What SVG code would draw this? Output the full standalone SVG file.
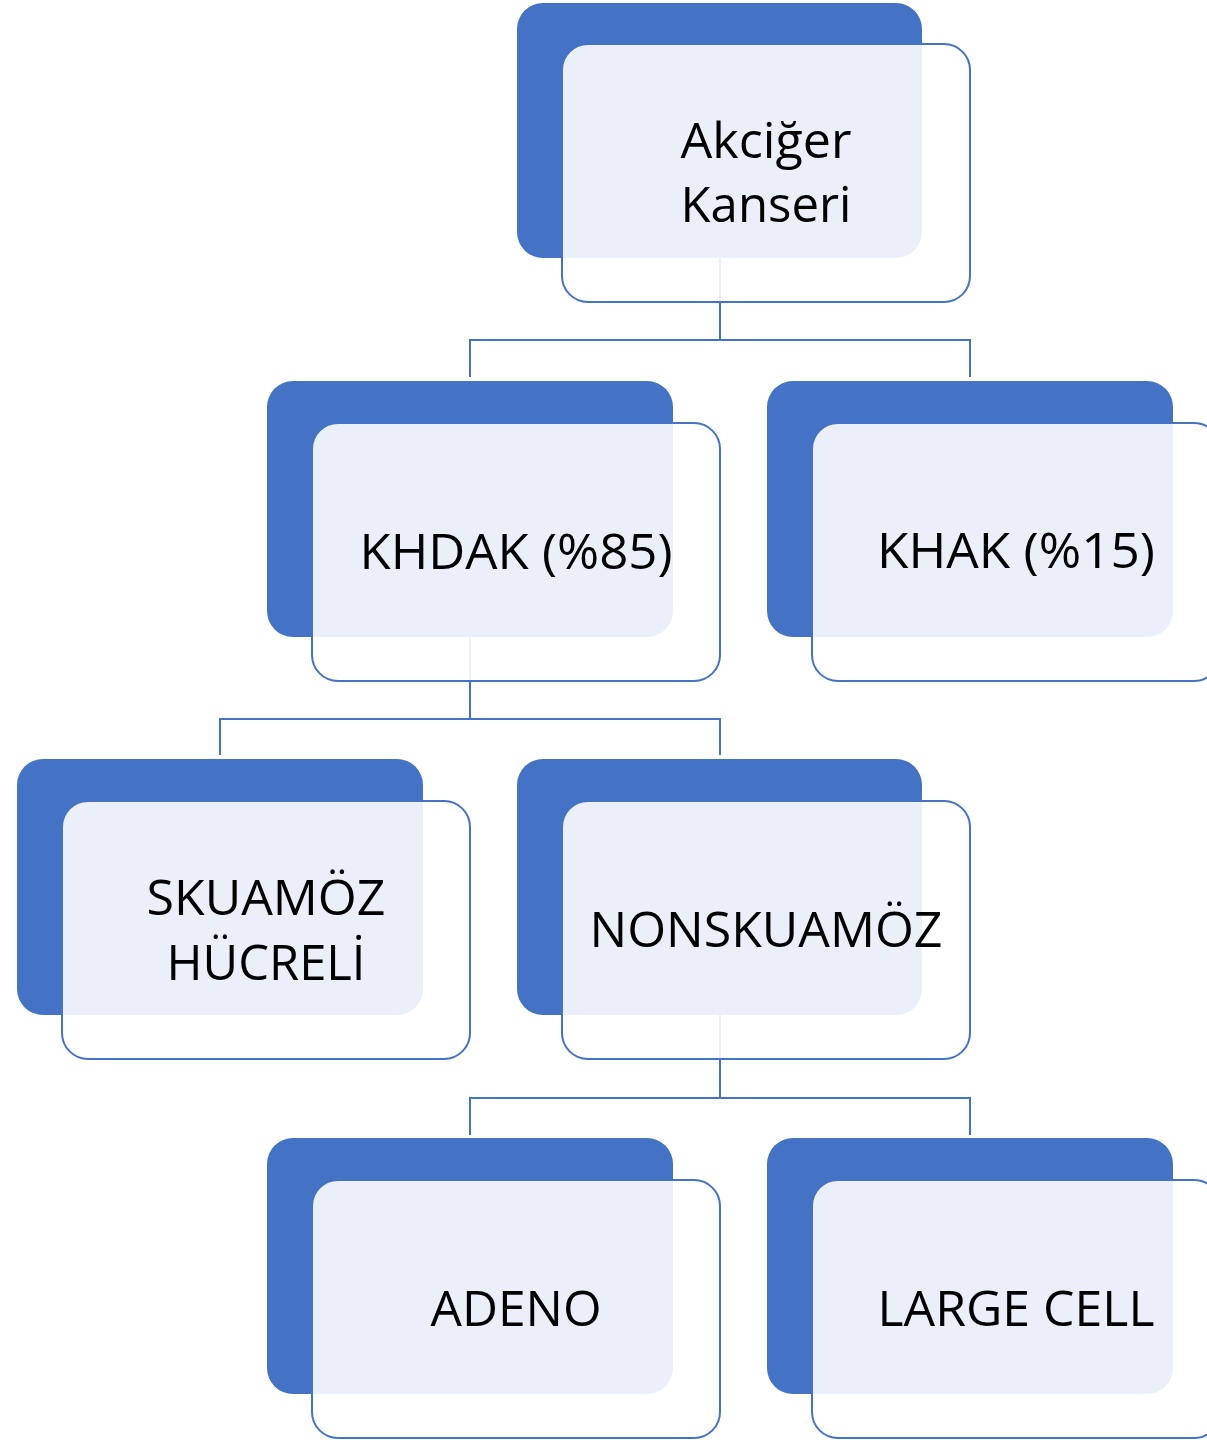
<svg xmlns="http://www.w3.org/2000/svg" width="1207" height="1440" viewBox="0 0 1207 1440">
  <style>
    .back { fill: #4472C4; }
    .front { fill: #FFFFFF; fill-opacity: 0.89; stroke: #4472C4; stroke-width: 2; }
    .conn { fill: none; stroke: #4472C4; stroke-width: 2; }
    .label { font-family: "Open Sans", "Noto Sans", sans-serif; font-size: 50px; fill: #000000; text-anchor: middle; }
  </style>
  <rect width="1207" height="1440" fill="#FFFFFF"/>

  <!-- tree connectors -->
  <g id="connectors">
    <path class="conn" d="M720 258 V340 M470 377 V340 H970 V377"/>
    <path class="conn" d="M470 637 V719 M220 755 V719 H720 V755"/>
    <path class="conn" d="M720 1015 V1098 M470 1135 V1098 H970 V1135"/>
  </g>

  <g id="node-akciger">
    <rect class="back" x="517" y="3" width="405" height="255" rx="26"/>
    <rect class="front" x="562" y="44" width="408" height="258" rx="26"/>
    <text class="label" x="766" y="158" textLength="171" lengthAdjust="spacingAndGlyphs">Akciğer</text>
    <text class="label" x="766" y="222" textLength="171" lengthAdjust="spacingAndGlyphs">Kanseri</text>
  </g>

  <g id="node-khdak">
    <rect class="back" x="267" y="381" width="406" height="256" rx="26"/>
    <rect class="front" x="312" y="423" width="408" height="258" rx="26"/>
    <text class="label" x="516" y="569" textLength="313" lengthAdjust="spacingAndGlyphs">KHDAK (%85)</text>
  </g>

  <g id="node-khak">
    <rect class="back" x="767" y="381" width="406" height="256" rx="26"/>
    <rect class="front" x="812" y="423" width="408" height="258" rx="26"/>
    <text class="label" x="1016" y="568" textLength="278" lengthAdjust="spacingAndGlyphs">KHAK (%15)</text>
  </g>

  <g id="node-skuamoz">
    <rect class="back" x="17" y="759" width="406" height="256" rx="26"/>
    <rect class="front" x="62" y="801" width="408" height="258" rx="26"/>
    <text class="label" x="266" y="915" textLength="239" lengthAdjust="spacingAndGlyphs">SKUAMÖZ</text>
    <text class="label" x="266" y="980" textLength="199" lengthAdjust="spacingAndGlyphs">HÜCRELİ</text>
  </g>

  <g id="node-nonskuamoz">
    <rect class="back" x="517" y="759" width="405" height="256" rx="26"/>
    <rect class="front" x="562" y="801" width="408" height="258" rx="26"/>
    <text class="label" x="766" y="947" textLength="353" lengthAdjust="spacingAndGlyphs">NONSKUAMÖZ</text>
  </g>

  <g id="node-adeno">
    <rect class="back" x="267" y="1138" width="406" height="256" rx="26"/>
    <rect class="front" x="312" y="1180" width="408" height="258" rx="26"/>
    <text class="label" x="516" y="1326" textLength="171" lengthAdjust="spacingAndGlyphs">ADENO</text>
  </g>

  <g id="node-large-cell">
    <rect class="back" x="767" y="1138" width="406" height="256" rx="26"/>
    <rect class="front" x="812" y="1180" width="408" height="258" rx="26"/>
    <text class="label" x="1016" y="1326" textLength="277" lengthAdjust="spacingAndGlyphs">LARGE CELL</text>
  </g>
</svg>
